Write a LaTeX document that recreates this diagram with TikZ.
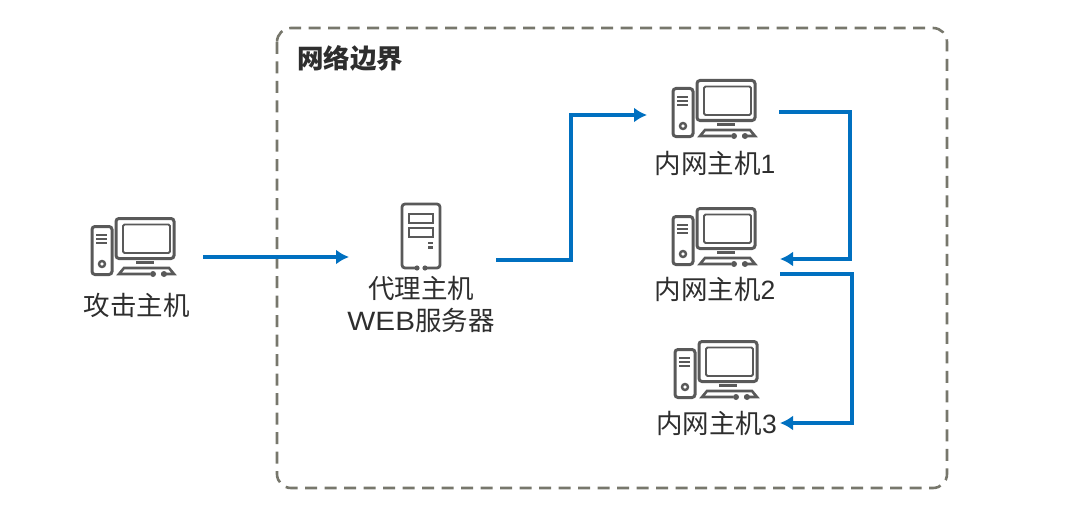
\documentclass[tikz,border=0pt]{standalone}
\usepackage{fontspec}
\setmainfont{Liberation Sans}
\newfontfamily\cjk{Noto Sans CJK SC}
\newfontfamily\widelatin[FakeStretch=1.12]{Liberation Sans}
\usetikzlibrary{arrows.meta, positioning, calc}
\definecolor{linkblue}{HTML}{0070C0}
\definecolor{icongray}{HTML}{595959}
\definecolor{borderdash}{HTML}{77776C}
\tikzset{
  link/.style={line width=4pt, linkblue, -{Latex[length=13pt,width=15pt]}},
  border/.style={line width=2.6pt, borderdash, dash pattern=on 12pt off 7.5pt, rounded corners=14pt},
  iconbox/.style={minimum width=84pt, minimum height=57pt, inner sep=0pt, outer sep=0pt},
  srvbox/.style={minimum width=38pt, minimum height=64pt, inner sep=0pt, outer sep=0pt},
  lbl/.style={font=\fontsize{26.5}{32}\selectfont, text=black!82, inner sep=0pt, align=center},
  desktop/.pic={
    \draw[icongray, line width=3pt, rounded corners=3pt] (-41,-20) rectangle (-21,28);
    \draw[icongray, line width=3pt, rounded corners=3pt] (-17,-28) rectangle (41,12);
    \draw[icongray, line width=1.8pt, rounded corners=1.5pt] (-10,-22) rectangle (37,6.5);
    \draw[icongray, line width=2.4pt] (-37,-11.5) -- (-26,-11.5) (-37,-7.5) -- (-26,-7.5) (-37,-3.5) -- (-26,-3.5);
    \draw[icongray, line width=2.4pt] (-31,17.5) circle (3);
    \draw[icongray, line width=3pt] (3,15.5) -- (21,15.5);
    \draw[icongray, line width=2.6pt] (17,27.5) -- (-14,27.5) -- (-9,21.5) -- (36,21.5) -- (41,27.5) -- (28,27.5);
    \fill[icongray] (20,27.5) circle (3) (31,27.5) circle (3);
  },
  server/.pic={
    \draw[icongray, line width=2.8pt, rounded corners=3pt] (-4,32) -- (-19,32) -- (-19,-32) -- (19,-32) -- (19,32) -- (4,32);
    \fill[icongray] (-4,32) circle (2.6) (4,32) circle (2.6);
    \draw[icongray, line width=1.8pt] (-12,-22) rectangle (12,-13) (-12,-8) rectangle (12,1);
    \draw[icongray, line width=2.4pt] (7,7) -- (12,7) (7,11.5) -- (12,11.5);
  }
}
\begin{document}
\begin{tikzpicture}[x=1pt, y=-1pt]
  \useasboundingbox (0,0) rectangle (1080,519);
  \draw[border] (277,28) rectangle (947,488);
  \node[lbl, font=\fontsize{26.5}{32}\selectfont\cjk\bfseries] (zone) at (350,58) {网络边界};

  % icons
  \node[iconbox] (attacker) at (133,246.5) {};
  \pic at (attacker) {desktop};
  \node[srvbox] (proxy) at (421,236) {};
  \pic at (proxy) {server};
  \node[iconbox] (host1) at (714,108.5) {};
  \pic at (host1) {desktop};
  \node[iconbox] (host2) at (714,236.5) {};
  \pic at (host2) {desktop};
  \node[iconbox] (host3) at (716,369.5) {};
  \pic at (host3) {desktop};

  % labels
  \node[lbl] (attackerlbl) at (136.5,305) {\cjk 攻击主机};
  \node[lbl] (proxylbl) at (421,304) {{\cjk 代理主机}\\{\widelatin WEB}{\cjk 服务器}};
  \node[lbl] (host1lbl) at (715,163) {{\cjk 内网主机}1};
  \node[lbl] (host2lbl) at (715,289) {{\cjk 内网主机}2};
  \node[lbl] (host3lbl) at (716.5,423) {{\cjk 内网主机}3};

  % traffic
  \draw[link] ([shift={(28,10.5)}]attacker.east) -- ([shift={(-53,21)}]proxy.west);
  \draw[link] ([shift={(56,24)}]proxy.east) -- ++(75,0) |- ([shift={(-25,6.5)}]host1.west);
  \draw[link] ([shift={(23,3.5)}]host1.east) -- ++(71,0) |- ([shift={(24,22.5)}]host2.east);
  \draw[link] ([shift={(24,37.5)}]host2.east) -- ++(72,0) |- ([shift={(22,53.5)}]host3.east);
\end{tikzpicture}
\end{document}
